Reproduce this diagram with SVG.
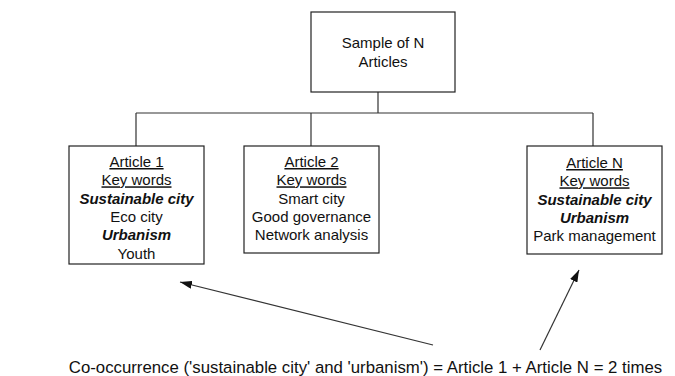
<svg xmlns="http://www.w3.org/2000/svg" width="675" height="376" viewBox="0 0 675 376">
<style>
.box{fill:#fff;stroke:#222;stroke-width:1.2}
.ln{fill:none;stroke:#333;stroke-width:1.2}
.t{font-family:"Liberation Sans",Arial,sans-serif;font-size:15px;fill:#111;text-anchor:middle}
.u{text-decoration:underline}
.bi{font-weight:bold;font-style:italic}
</style>
<defs>
<marker id="ah" viewBox="0 0 12 8" refX="12" refY="4" markerWidth="12" markerHeight="8" markerUnits="userSpaceOnUse" orient="auto">
<path d="M0,0 L12,4 L0,8 Z" fill="#111"/>
</marker>
</defs>
<g id="connectors">
<path class="ln" d="M378,92 V113 M136,113 H593 M136,113 V146 M311,113 V146 M593,113 V146"/>
<path class="ln" d="M433,345 L180,282" marker-end="url(#ah)"/>
<path class="ln" d="M540,350 L579,270" marker-end="url(#ah)"/>
</g>
<g id="sample">
<rect class="box" x="311" y="12" width="144" height="80"/>
<text class="t" x="383" y="48">Sample of N</text>
<text class="t" x="383" y="67">Articles</text>
</g>
<g id="article1">
<rect class="box" x="69" y="146" width="135" height="118"/>
<text class="t u" x="136.5" y="167">Article 1</text>
<text class="t u" x="136.5" y="185.3">Key words</text>
<text class="t bi" x="136.5" y="203.6">Sustainable city</text>
<text class="t" x="136.5" y="221.9">Eco city</text>
<text class="t bi" x="136.5" y="240.2">Urbanism</text>
<text class="t" x="136.5" y="258.5">Youth</text>
</g>
<g id="article2">
<rect class="box" x="244" y="146" width="135" height="107"/>
<text class="t u" x="311.5" y="167">Article 2</text>
<text class="t u" x="311.5" y="185.3">Key words</text>
<text class="t" x="311.5" y="203.6">Smart city</text>
<text class="t" x="311.5" y="221.9">Good governance</text>
<text class="t" x="311.5" y="240.2">Network analysis</text>
</g>
<g id="articleN">
<rect class="box" x="527" y="146" width="135" height="108"/>
<text class="t u" x="594.5" y="168">Article N</text>
<text class="t u" x="594.5" y="186.3">Key words</text>
<text class="t bi" x="594.5" y="204.6">Sustainable city</text>
<text class="t bi" x="594.5" y="222.9">Urbanism</text>
<text class="t" x="594.5" y="241.2">Park management</text>
</g>
<g id="caption">
<text class="t" x="365.5" y="373" style="font-size:16.8px">Co-occurrence ('sustainable city' and 'urbanism') = Article 1 + Article N = 2 times</text>
</g>
</svg>
